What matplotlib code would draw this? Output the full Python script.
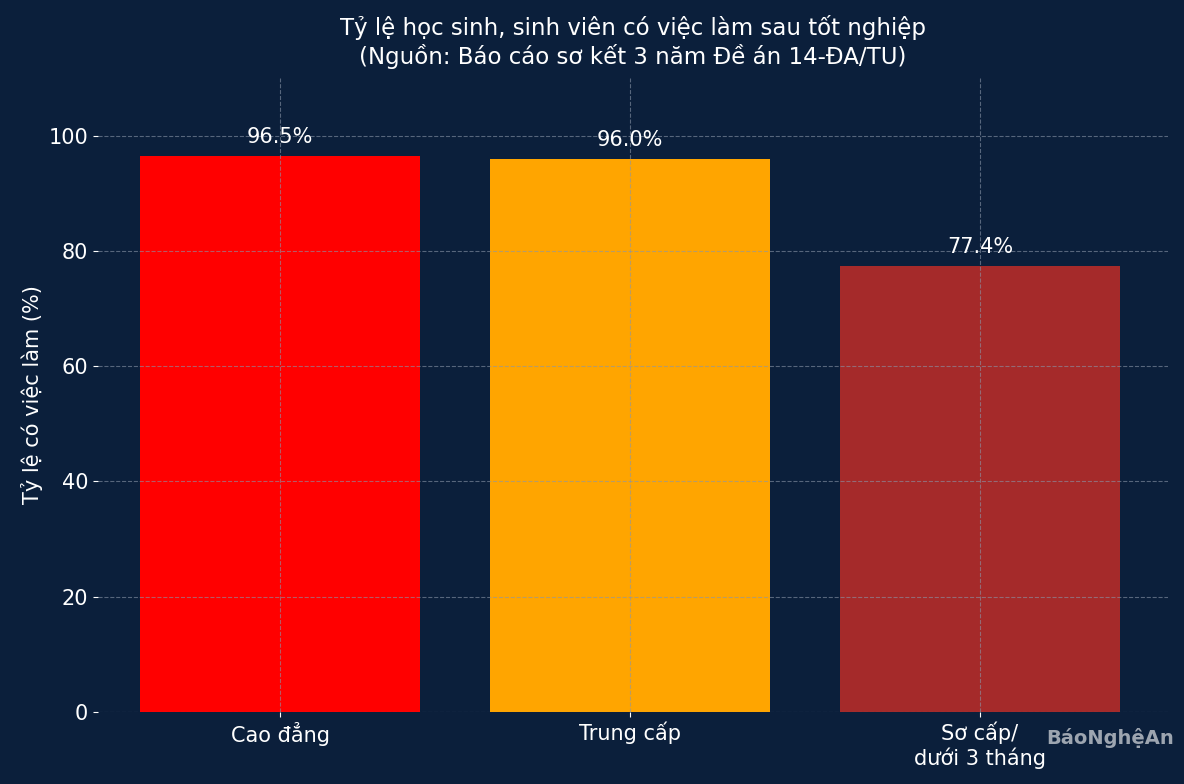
import matplotlib
matplotlib.use("Agg")
import matplotlib.pyplot as plt

categories = ["Cao đẳng", "Trung cấp", "Sơ cấp/\ndưới 3 tháng"]
values = [96.5, 96.0, 77.4]
colors = ["#ff0000", "#ffa500", "#a52a2a"]
bg = "#0b1f3b"

fig = plt.figure(figsize=(11.84, 7.84), dpi=100, facecolor=bg)
ax = fig.add_axes([98/1184, 1-712/784, (1168-98)/1184, (712-78)/784], facecolor=bg)
x = range(len(categories))
bars = ax.bar(x, values, width=0.8, color=colors, zorder=1)
for xi, v in zip(x, values):
    ax.text(xi, v + 1.5, f"{v}%", ha="center", va="bottom", color="white", fontsize=15, zorder=3)
ax.set_xlim(-0.52, 2.537)
ax.set_ylim(0, 110)
ax.set_xticks(list(x))
ax.set_xticklabels(categories, color="white", fontsize=15)
ax.set_yticks([0, 20, 40, 60, 80, 100])
ax.tick_params(axis="y", colors="white", labelsize=15)
ax.tick_params(axis="x", colors="white")
ax.grid(True, linestyle="--", color="#8a96a8", alpha=0.6, linewidth=0.8, zorder=2)
ax.set_axisbelow(False)
for s in ax.spines.values():
    s.set_visible(False)
ax.set_ylabel("Tỷ lệ có việc làm (%)", color="white", fontsize=15)
ax.set_title("Tỷ lệ học sinh, sinh viên có việc làm sau tốt nghiệp\n(Nguồn: Báo cáo sơ kết 3 năm Đề án 14-ĐA/TU)",
             color="white", fontsize=16.5, pad=10)
fig.text(1110/1184, 1-738/784, "BáoNghệAn", color="white", alpha=0.6, fontsize=14, ha="center", va="center", fontweight="bold")
fig.savefig("out.png", dpi=100, facecolor=bg)
